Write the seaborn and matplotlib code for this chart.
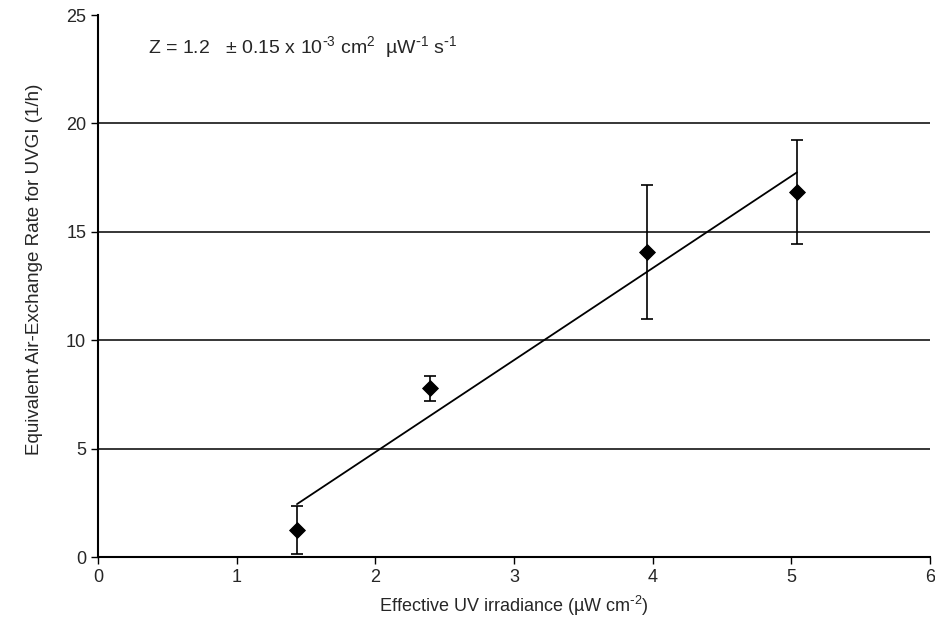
import matplotlib
matplotlib.use("Agg")
import matplotlib.pyplot as plt
import seaborn as sns
import pandas as pd

# Data
irradiance = [1.435, 2.395, 3.957, 5.04]
rate = [1.25, 7.78, 14.08, 16.85]
rate_err = [1.1, 0.57, 3.1, 2.4]
fit_x = [1.435, 5.04]
fit_y = [2.44, 17.74]
x_ticks = [0, 1, 2, 3, 4, 5, 6]
y_ticks = [0, 5, 10, 15, 20, 25]

sns.set_style("white")
plt.rcParams['font.family'] = ['Liberation Sans', 'DejaVu Sans']
plt.rcParams['mathtext.default'] = 'regular'

df = pd.DataFrame({"x": irradiance, "y": rate, "e": rate_err})
fit = pd.DataFrame({"x": fit_x, "y": fit_y})

fig = plt.figure(figsize=(9.35, 6.25), dpi=100)
ax = fig.add_axes([0.1048, 0.1088, 0.8899, 0.8672])

for yv in y_ticks[1:-1]:
    ax.axhline(yv, color="black", lw=1.1, zorder=1)

ax.errorbar(df["x"], df["y"], yerr=df["e"], fmt="none", ecolor="black",
            elinewidth=1.2, capsize=4.5, capthick=1.2, zorder=2)
sns.lineplot(data=fit, x="x", y="y", ax=ax, color="black", lw=1.3, zorder=3)
sns.scatterplot(data=df, x="x", y="y", ax=ax, marker="D", s=65,
                color="black", edgecolor="black", zorder=4)

ax.set_xlim(0, 6)
ax.set_ylim(0, 25)
ax.set_xticks(x_ticks)
ax.set_yticks(y_ticks)
ax.tick_params(axis="both", direction="out", length=5, width=1.0,
               labelsize=13, color="black", left=True, bottom=True)
for s in ["top", "right"]:
    ax.spines[s].set_visible(False)
for s in ["left", "bottom"]:
    ax.spines[s].set_color("black")
    ax.spines[s].set_linewidth(1.5)

ax.set_xlabel("Effective UV irradiance (µW cm$^{\\text{-}2}$)", fontsize=13, labelpad=6)
ax.set_ylabel("Equivalent Air-Exchange Rate for UVGI (1/h)", fontsize=13.5)
ax.yaxis.set_label_coords(-0.066, 0.53)

ax.text(0.36, 23.5,
        "Z = 1.2   ± 0.15 x 10$^{\\text{-}3}$ cm$^{2}$  µW$^{\\text{-}1}$ s$^{\\text{-}1}$",
        fontsize=14, va="center", ha="left")

fig.savefig("out.png", dpi=100)
